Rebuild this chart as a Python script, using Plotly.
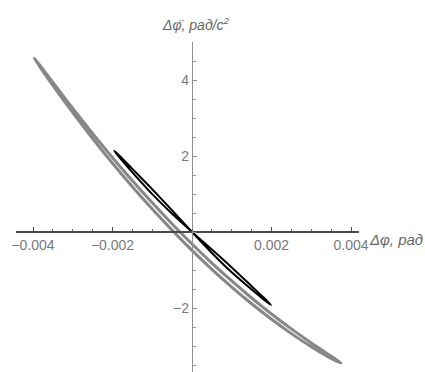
import plotly.graph_objects as go

# Gray loop (larger amplitude): x = Δφ (rad), y = Δφ̈ (rad/s²)
gray_x = [-0.00397, -0.0038, -0.0035, -0.003, -0.0025, -0.002, -0.0015, -0.001, -0.0005, 0.0,
          0.0005, 0.001, 0.0015, 0.002, 0.0025, 0.003, 0.0035, 0.00375,
          0.0035, 0.003, 0.0025, 0.002, 0.0015, 0.001, 0.0005, 0.0,
          -0.0005, -0.001, -0.0015, -0.002, -0.0025, -0.003, -0.0035, -0.0038, -0.00397]
gray_y = [4.58, 4.354, 3.936, 3.251, 2.592, 1.957, 1.348, 0.767, 0.211, -0.316,
          -0.817, -1.289, -1.737, -2.157, -2.550, -2.919, -3.267, -3.45,
          -3.327, -3.019, -2.674, -2.297, -1.889, -1.451, -0.983, -0.484,
          0.045, 0.603, 1.192, 1.809, 2.460, 3.141, 3.856, 4.304, 4.58]

# Black loop (smaller amplitude)
black_x = [-0.00196, -0.0018, -0.0015, -0.001, -0.0005, 0.0, 0.0005, 0.001, 0.0015, 0.0018, 0.00199,
           0.0018, 0.0015, 0.001, 0.0005, 0.0, -0.0005, -0.001, -0.0015, -0.0018, -0.00196]
black_y = [2.141, 1.982, 1.661, 1.126, 0.568, 0.0, -0.551, -1.062, -1.516, -1.772, -1.920,
           -1.722, -1.426, -0.932, -0.461, 0.0, 0.478, 0.996, 1.571, 1.932, 2.141]

x_tickvals = [-0.004, -0.002, 0.002, 0.004]
x_ticktext = ["\u22120.004", "\u22120.002", "0.002", "0.004"]
y_tickvals = [-2, 2, 4]
y_ticktext = ["\u22122", "2", "4"]

x_range = [-0.004428, 0.004201]
y_range = [-3.684, 5.0]

fig = go.Figure()
fig.add_trace(go.Scatter(x=gray_x, y=gray_y, mode="lines",
                         line=dict(color="#878787", width=3.0, shape="spline", smoothing=0.6),
                         hoverinfo="skip", showlegend=False))
fig.add_trace(go.Scatter(x=black_x, y=black_y, mode="lines",
                         line=dict(color="#000000", width=2, shape="spline", smoothing=0.6),
                         hoverinfo="skip", showlegend=False))

tick_font = dict(family="Liberation Sans, Arial, sans-serif", size=14, color="#7a7a7a")
xpos = (0 - y_range[0]) / (y_range[1] - y_range[0])
ypos = (0 - x_range[0]) / (x_range[1] - x_range[0])

fig.update_layout(
    width=425, height=372,
    margin=dict(l=16, r=66, t=42, b=0),
    paper_bgcolor="white", plot_bgcolor="white",
    showlegend=False,
    xaxis=dict(range=x_range, anchor="free", position=xpos, showgrid=False, zeroline=False,
               showline=True, linecolor="#4a4a4a", linewidth=2,
               tickvals=x_tickvals, ticktext=x_ticktext, ticks="inside", ticklen=4,
               tickcolor="#4a4a4a", tickwidth=1, tickfont=tick_font,
               minor=dict(dtick=0.0005, tick0=0, ticks="inside", ticklen=2.5, tickcolor="#6a6a6a", showgrid=False),
               automargin=False, fixedrange=True),
    yaxis=dict(range=y_range, anchor="free", position=ypos, showgrid=False, zeroline=False,
               showline=True, linecolor="#8f8f8f", linewidth=1.3,
               tickvals=y_tickvals, ticktext=y_ticktext, ticks="inside", ticklen=4,
               tickcolor="#8f8f8f", tickwidth=1, tickfont=tick_font,
               minor=dict(dtick=0.5, tick0=0, ticks="inside", ticklen=2.5, tickcolor="#9a9a9a", showgrid=False),
               automargin=False, fixedrange=True),
)

label_font = dict(family="Liberation Sans, Arial, sans-serif", size=14, color="#666666")
fig.add_annotation(xref="paper", yref="paper", x=(160 - 16) / 343, y=(372 - 24) / 330,
                   xanchor="left", yanchor="middle", showarrow=False,
                   text="<i>\u0394\u03c6\u0308, \u0440\u0430\u0434/\u0441<sup>2</sup></i>", font=label_font)
fig.add_annotation(xref="paper", yref="paper", x=(367 - 16) / 343, y=(372 - 239) / 330,
                   xanchor="left", yanchor="middle", showarrow=False,
                   text="<i>\u0394\u03c6, \u0440\u0430\u0434</i>",
                   font=dict(family="Liberation Sans, Arial, sans-serif", size=15, color="#666666"))

fig.write_html("out.html")
